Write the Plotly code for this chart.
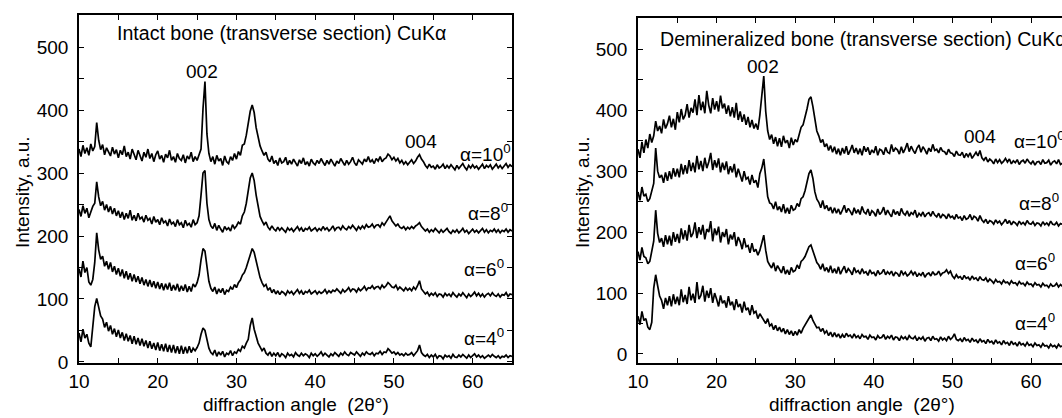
import plotly.graph_objects as go

# scan grid (step 0.25 deg, 10..65)
two_theta = [10 + 0.25 * i for i in range(221)]

# ---- Intact bone (left panel) ----
intact_a10 = [
338,326,344,331, 340,328,346,335, 342,380,352,337, 345,329,340,333, 327,341,330,337,
324,336,329,343, 326,333,322,338, 330,321,336,327, 319,333,325,338, 323,331,318,329,
335,322,328,317, 330,324,336,320, 326,317,331,323, 320,329,316,327, 322,333,318,326,
320,329,338,402, 445,362,331,318, 326,314,328,319, 323,312,327,318, 315,326,320,331,
322,334,328,344, 346,360,378,398, 408,396,372,356, 343,335,328,333, 322,318,327,315,
320,312,324,316, 318,325,313,320, 314,322,317,311, 321,315,324,313, 318,311,322,316,
313,320,315,323, 317,312,320,314, 322,316,311,319, 315,323,317,312, 320,314,318,325,
316,312,321,317, 314,322,318,326, 317,321,315,323, 319,326,318,322, 324,330,327,321,
325,319,323,316, 320,314,318,313, 317,321,315,319, 325,329,322,318, 312,308,314,309,
311,306,313,308, 310,314,307,312, 308,313,309,305, 312,307,311,315, 309,305,312,308,
313,308,311,306, 310,314,307,312, 309,313,306,311, 314,308,312,307, 311,315,309,313,
310]
intact_a8 = [
242,231,248,236, 244,229,238,247, 252,286,262,248, 255,241,250,238, 247,235,244,232,
240,229,238,226, 236,228,241,225, 233,224,236,227, 230,222,233,225, 228,219,231,222,
226,218,229,221, 224,216,227,219, 222,215,226,218, 221,213,225,217, 220,214,226,218,
221,232,265,300, 304,252,226,216, 212,220,209,217, 211,206,215,210, 213,208,218,212,
216,222,219,232, 238,252,272,292, 300,288,265,245, 231,224,218,222, 214,210,216,211,
208,214,209,213, 210,206,213,209, 212,207,211,215, 209,213,207,212, 210,214,208,211,
213,208,212,209, 215,210,213,208, 211,216,209,213, 214,210,216,212, 210,215,212,217,
213,209,215,211, 216,212,218,214, 215,219,213,217, 218,214,221,217, 222,228,232,224,
220,216,219,214, 212,215,210,214, 211,215,212,216, 218,221,215,211, 208,211,206,210,
207,212,208,205, 210,206,209,212, 207,204,209,206, 210,205,208,212, 206,209,204,208,
211,206,209,205, 208,212,206,210, 205,209,207,211, 206,210,205,209, 207,211,206,210,
208]
intact_a6 = [
148,135,160,142, 150,127,122,131, 158,205,178,163, 168,152,160,147, 158,143,152,139,
149,136,147,133, 144,131,141,128, 139,127,136,124, 134,122,131,120, 130,119,128,117,
127,116,125,114, 124,115,126,113, 122,114,124,112, 121,113,123,111, 120,112,124,119,
126,138,162,180, 176,150,128,117, 112,119,108,116, 110,117,107,114, 112,119,115,123,
118,126,130,138, 142,150,160,172, 180,174,160,146, 134,126,120,123, 114,118,110,115,
108,113,107,112, 110,106,113,109, 112,107,111,115, 109,113,107,112, 110,114,108,111,
113,108,112,109, 111,115,109,113, 110,114,112,116, 113,109,115,111, 114,118,112,116,
115,111,117,113, 116,120,114,118, 117,121,116,119, 120,116,122,118, 121,126,123,119,
118,122,115,119, 116,113,118,114, 117,113,119,115, 121,129,116,112, 108,111,105,109,
106,110,104,108, 107,103,109,105, 108,104,110,106, 103,108,105,110, 106,102,108,104,
107,111,105,109, 104,108,103,107, 109,105,110,106, 104,108,103,107, 106,110,104,108,
107]
intact_a4 = [
46,32,52,38, 44,30,24,62, 88,101,86,73, 68,55,63,49, 58,44,53,40,
51,38,47,34, 45,33,42,29, 41,28,38,26, 37,25,34,22, 33,21,30,19,
31,18,28,17, 29,16,27,15, 27,14,25,13, 26,13,24,14, 25,15,22,18,
23,30,44,54, 50,34,22,15, 12,19,9,16, 11,17,8,14, 12,18,10,16,
14,20,17,25, 22,30,36,58, 70,52,40,30, 24,18,22,14, 11,16,9,14,
10,15,8,13, 11,7,14,10, 12,8,15,11, 9,14,10,13, 11,7,14,10,
13,9,12,16, 10,14,11,8, 13,10,15,12, 9,14,11,16, 12,10,15,13,
11,16,12,9, 14,11,16,13, 12,15,10,14, 13,17,12,16, 15,21,18,14,
16,12,15,11, 13,10,14,11, 12,15,10,14, 18,27,15,11, 9,12,7,11,
8,12,6,10, 9,5,11,8, 10,6,12,8, 7,11,8,12, 9,6,11,7,
10,13,8,11, 7,10,6,9, 11,8,12,9, 7,10,6,9, 8,11,7,10,
9]

# ---- Demineralized bone (right panel) ----
demin_a10 = [
336,322,348,330, 352,338,361,347, 358,382,366,374, 362,385,370,378, 391,372,386,368,
397,380,402,385, 392,410,388,404, 396,418,392,425, 400,414,395,432, 408,395,420,401,
415,398,424,403, 411,394,408,390, 405,388,412,384, 398,381,393,376, 389,372,384,370,
378,368,392,425, 456,398,366,352, 360,345,356,341, 354,340,358,346, 351,338,355,343,
352,348,362,372, 376,388,402,418, 422,406,384,366, 358,347,352,340, 345,334,342,331,
340,328,337,326, 338,329,341,327, 334,343,330,338, 328,337,326,341, 332,339,327,335,
330,341,326,336, 334,327,339,331, 329,344,332,338, 335,328,340,330, 337,346,332,341,
334,329,338,343, 331,340,335,328, 338,332,344,334, 336,330,339,333, 332,327,336,330,
329,324,333,327, 326,331,322,329, 324,330,321,327, 331,325,334,322, 318,323,315,320,
317,312,320,314, 319,313,316,321, 315,320,312,317, 314,319,311,316, 318,313,320,315,
312,317,310,315, 316,311,319,313, 314,318,310,315, 317,312,319,311, 313,318,312,316,
314]
demin_a8 = [
266,252,274,259, 262,250,255,268, 280,338,300,289, 294,281,298,284, 300,287,305,291,
304,290,312,295, 310,296,318,300, 314,298,325,303, 317,300,322,305, 315,330,302,318,
306,321,298,314, 302,316,295,308, 298,312,290,304, 294,283,300,287, 290,278,294,281,
285,273,296,305, 320,284,258,248, 246,238,250,236, 242,233,246,231, 240,230,244,236,
238,247,242,255, 258,268,282,296, 302,288,266,254, 249,240,252,238, 244,235,241,231,
240,231,238,229, 236,244,232,239, 234,228,240,231, 237,229,242,233, 230,238,227,235,
232,226,238,229, 233,241,228,236, 230,225,237,229, 234,227,239,231, 228,235,226,232,
229,236,224,231, 227,233,225,230, 232,226,234,228, 225,231,223,229, 227,222,230,224,
226,221,229,223, 225,219,227,221, 223,229,220,226, 224,218,227,220, 216,221,214,219,
217,213,220,215, 218,212,216,221, 214,219,212,217, 215,211,218,213, 216,212,219,214,
213,217,211,215, 214,210,217,212, 215,211,218,213, 212,216,210,214, 213,209,216,211,
212]
demin_a6 = [
168,154,175,160, 158,148,152,170, 185,236,198,183, 190,176,195,180, 194,178,200,184,
197,182,206,188, 203,186,212,192, 198,216,190,208, 196,212,188,205, 200,218,185,206,
195,209,183,200, 192,205,180,196, 188,200,177,192, 184,172,190,176, 178,166,182,168,
172,162,170,182, 195,170,152,146, 141,150,136,145, 139,133,144,131, 138,130,142,135,
137,146,140,152, 155,160,168,176, 179,168,157,150, 146,139,148,136, 142,134,145,133,
140,132,143,131, 138,144,133,140, 136,130,142,134, 137,131,140,133, 135,129,138,132,
134,128,137,131, 133,139,130,135, 131,136,128,134, 132,127,137,130, 134,128,131,136,
130,135,127,132, 129,134,126,131, 133,128,135,130, 131,136,129,133, 134,138,132,136,
128,124,130,125, 127,122,129,124, 126,121,128,123, 125,120,127,122, 121,125,118,123,
120,116,122,118, 119,115,121,117, 118,114,120,116, 117,113,119,115, 116,112,118,114,
115,111,117,113, 114,110,116,112, 113,109,115,111, 112,116,110,114, 111,108,113,110,
111]
demin_a4 = [
62,48,70,55, 58,44,40,52, 108,130,112,95, 88,74,92,80, 95,78,98,82,
94,80,106,85, 97,82,110,88, 99,84,118,90, 96,112,86,104, 92,108,84,100,
90,78,96,83, 88,76,95,80, 86,72,90,77, 82,68,86,72, 76,64,80,67,
70,58,66,60, 56,50,58,46, 49,40,47,38, 44,36,42,33, 40,32,38,30,
37,31,40,34, 42,48,52,60, 64,55,48,43, 44,37,42,34, 38,30,36,28,
35,28,33,26, 32,27,34,29, 31,26,33,27, 30,25,32,28, 29,24,31,27,
28,23,30,26, 27,32,24,29, 26,31,23,28, 27,22,29,25, 28,23,30,26,
25,29,22,27, 24,28,21,26, 27,22,29,24, 25,21,28,23, 26,22,29,24,
27,33,24,22, 25,20,27,22, 24,19,26,21, 23,18,25,20, 22,17,24,19,
21,16,23,18, 20,15,22,17, 19,14,21,16, 18,13,20,15, 17,13,19,14,
16,12,18,14, 15,11,17,13, 14,10,16,12, 14,10,16,12, 13,9,15,11,
12]

left_series = [intact_a10, intact_a8, intact_a6, intact_a4]
right_series = [demin_a10, demin_a8, demin_a6, demin_a4]

alpha_labels = ["α=10<sup>0</sup>", "α=8<sup>0</sup>", "α=6<sup>0</sup>", "α=4<sup>0</sup>"]
left_label_pos = [(58.1, 332), (59.2, 238), (58.7, 149), (58.7, 40)]
right_label_pos = [(57.6, 351), (58.2, 250), (57.7, 151), (57.7, 53)]

left_title = "Intact bone (transverse section) CuKα"
right_title = "Demineralized bone (transverse section) CuKα"
x_title = "diffraction angle\u00a0\u00a0(2θ°)"
y_title = "Intensity, a.u."
y_tickvals = [0, 50, 100, 150, 200, 250, 300, 350, 400, 450, 500, 550]
y_ticktext = ["0", "", "100", "", "200", "", "300", "", "400", "", "500", ""]
x_tickvals = [10, 15, 20, 25, 30, 35, 40, 45, 50, 55, 60, 65]
x_ticktext = ["10", "", "20", "", "30", "", "40", "", "50", "", "60", ""]

FONT = "Arial, Liberation Sans, sans-serif"
FS = 19

fig = go.Figure()
for s in left_series:
    fig.add_trace(go.Scatter(x=two_theta, y=s, mode="lines",
                             line=dict(color="black", width=1.7),
                             xaxis="x", yaxis="y", showlegend=False))
for s in right_series:
    fig.add_trace(go.Scatter(x=two_theta, y=s, mode="lines",
                             line=dict(color="black", width=1.7),
                             xaxis="x2", yaxis="y2", showlegend=False))

W, H = 1062, 418
ml, mr, mt, mb = 79, 0, 15, 55
pw = W - ml - mr
ph = H - mt - mb
x1_dom = [0, (512 - ml) / pw]
x2_dom = [(638 - ml) / pw, 1.0]
y2_top = (363 - 18.3) / ph

def px_x(p):
    return (p - ml) / pw

def px_y(p):
    return (H - mb - p) / ph

axis_common = dict(showline=True, linecolor="black", linewidth=1.5,
                   ticks="inside", ticklen=5, tickwidth=1.3, tickcolor="black",
                   showgrid=False, zeroline=False,
                   tickfont=dict(family=FONT, size=FS, color="black"))

fig.update_layout(
    width=W, height=H,
    margin=dict(l=ml, r=mr, t=mt, b=mb),
    paper_bgcolor="white", plot_bgcolor="white",
    font=dict(family=FONT, size=FS, color="black"),
    xaxis=dict(domain=x1_dom, range=[10, 65], anchor="y", mirror="ticks",
               tickvals=x_tickvals, ticktext=x_ticktext, **axis_common),
    yaxis=dict(domain=[0, 1], range=[-1.6, 550.8], anchor="x", mirror="ticks",
               tickvals=y_tickvals, ticktext=y_ticktext, ticklabelstandoff=5,
               **axis_common),
    xaxis2=dict(domain=x2_dom, range=[10, 63.94], anchor="y2", mirror="ticks",
                tickvals=x_tickvals, ticktext=x_ticktext, **axis_common),
    yaxis2=dict(domain=[0, y2_top], range=[-14.8, 550.9], anchor="x2", mirror=False,
                tickvals=y_tickvals, ticktext=y_ticktext, ticklabelstandoff=5,
                **axis_common),
)

annotations = []
# axis titles
for cx in (296, 862):
    annotations.append(dict(x=px_x(cx), y=px_y(404), xref="paper", yref="paper",
                            text=x_title, showarrow=False, xanchor="center",
                            yanchor="middle", font=dict(family=FONT, size=FS)))
for cx in (22, 582):
    annotations.append(dict(x=px_x(cx), y=px_y(192), xref="paper", yref="paper",
                            text=y_title, showarrow=False, textangle=-90,
                            xanchor="center", yanchor="middle",
                            font=dict(family=FONT, size=FS)))
annotations.append(dict(x=14.6, y=522, xref="x", yref="y", text=left_title,
                        showarrow=False, xanchor="left", yanchor="middle",
                        font=dict(family=FONT, size=19.6)))
annotations.append(dict(x=12.5, y=517, xref="x2", yref="y2", text=right_title,
                        showarrow=False, xanchor="left", yanchor="middle",
                        font=dict(family=FONT, size=19.6)))
annotations.append(dict(x=25.6, y=461, xref="x", yref="y", text="002",
                        showarrow=False, font=dict(family=FONT, size=FS)))
annotations.append(dict(x=53.5, y=350, xref="x", yref="y", text="004",
                        showarrow=False, font=dict(family=FONT, size=FS)))
annotations.append(dict(x=25.9, y=472, xref="x2", yref="y2", text="002",
                        showarrow=False, font=dict(family=FONT, size=FS)))
annotations.append(dict(x=53.5, y=357, xref="x2", yref="y2", text="004",
                        showarrow=False, font=dict(family=FONT, size=FS)))
for lab, (px, py) in zip(alpha_labels, left_label_pos):
    annotations.append(dict(x=px, y=py, xref="x", yref="y", text=lab, showarrow=False,
                            xanchor="left", yanchor="middle", font=dict(family=FONT, size=FS)))
for lab, (px, py) in zip(alpha_labels, right_label_pos):
    annotations.append(dict(x=px, y=py, xref="x2", yref="y2", text=lab, showarrow=False,
                            xanchor="left", yanchor="middle", font=dict(family=FONT, size=FS)))
fig.update_layout(annotations=annotations)

fig.write_html("out.html", config={"displayModeBar": False},
               post_script="document.body.style.margin='0';document.body.style.overflow='hidden';")
